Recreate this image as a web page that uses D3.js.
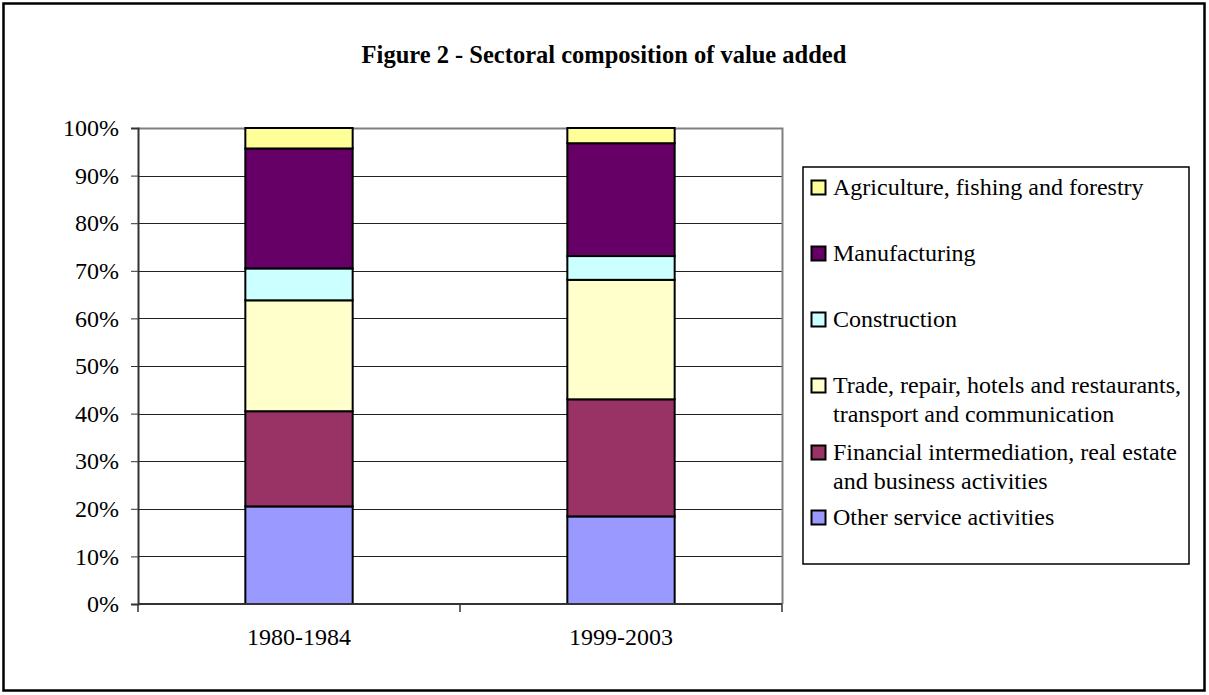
<!DOCTYPE html>
<html>
<head>
<meta charset="utf-8">
<script src="https://cdn.jsdelivr.net/npm/d3@7"></script>
<style>
  html, body { margin: 0; padding: 0; background: #fff; }
  svg { display: block; }
  text, tspan { font-family: "Liberation Serif", "Times New Roman", serif; fill: #000; }
</style>
</head>
<body>
<svg id="chart" width="1209" height="695"></svg>
<script>
// Periods on the x axis
const periods = ["1980-1984", "1999-2003"];

// Sector shares of value added (%), stacked bottom to top
const otherServices = [20.5, 18.4];
const financial     = [20.0, 24.6];
const trade         = [23.3, 25.1];
const construction  = [6.7, 5.0];
const manufacturing = [25.2, 23.7];
const agriculture   = [4.3, 3.2];

// Legend labels (top to bottom) and y-axis tick labels
const sectorNames = [
  "Agriculture, fishing and forestry",
  "Manufacturing",
  "Construction",
  "Trade, repair, hotels and restaurants, transport and communication",
  "Financial intermediation, real estate and business activities",
  "Other service activities"
];
const legendLines = [
  ["Agriculture, fishing and forestry"],
  ["Manufacturing"],
  ["Construction"],
  ["Trade, repair, hotels and restaurants,", "transport and communication"],
  ["Financial intermediation, real estate", "and business activities"],
  ["Other service activities"]
];
const yTicks = [0, 10, 20, 30, 40, 50, 60, 70, 80, 90, 100];

const sectorColors = ["#FFFF99", "#660066", "#CCFFFF", "#FFFFCC", "#993366", "#9999FF"];

// Series in stacking order (bottom first)
const stackOrder = [
  { key: sectorNames[5], values: otherServices, color: sectorColors[5] },
  { key: sectorNames[4], values: financial,     color: sectorColors[4] },
  { key: sectorNames[3], values: trade,         color: sectorColors[3] },
  { key: sectorNames[2], values: construction,  color: sectorColors[2] },
  { key: sectorNames[1], values: manufacturing, color: sectorColors[1] },
  { key: sectorNames[0], values: agriculture,   color: sectorColors[0] }
];

const table = periods.map((p, i) => {
  const row = { period: p };
  stackOrder.forEach(s => { row[s.key] = s.values[i]; });
  return row;
});

const FONT = "'Liberation Serif', 'Times New Roman', serif";
const svg = d3.select("#chart");

// Outer frame
svg.append("rect")
  .attr("x", 3.5).attr("y", 3.5)
  .attr("width", 1201).attr("height", 687)
  .attr("fill", "#fff").attr("stroke", "#000").attr("stroke-width", 2.5);

// Title
svg.append("text")
  .attr("x", 604).attr("y", 63)
  .attr("text-anchor", "middle")
  .style("font-family", FONT)
  .style("font-weight", "bold")
  .style("font-size", "24.5px")
  .text("Figure 2 - Sectoral composition of value added");

const plot = { left: 138, right: 782, top: 128, bottom: 604 };

const x = d3.scaleBand()
  .domain(periods)
  .range([plot.left, plot.right])
  .paddingInner(0)
  .paddingOuter(0);

const y = d3.scaleLinear()
  .domain([0, 100])
  .range([plot.bottom, plot.top]);

// Gridlines
svg.append("g")
  .selectAll("line")
  .data(yTicks.filter(t => t > 0 && t < 100))
  .join("line")
  .attr("x1", plot.left).attr("x2", plot.right)
  .attr("y1", d => Math.round(y(d)) + 0.5)
  .attr("y2", d => Math.round(y(d)) + 0.5)
  .attr("stroke", "#222").attr("stroke-width", 1);

// Plot-area border (top and right)
svg.append("path")
  .attr("d", `M${plot.left},${plot.top + 0.5}H${plot.right + 0.5}V${plot.bottom}`)
  .attr("fill", "none").attr("stroke", "#808080").attr("stroke-width", 2);

// Stacked bars
const stack = d3.stack().keys(stackOrder.map(s => s.key));
const layers = stack(table);
const barW = x.bandwidth() / 3;

svg.append("g")
  .selectAll("g")
  .data(layers)
  .join("g")
  .attr("fill", (d, i) => stackOrder[i].color)
  .selectAll("rect")
  .data(d => d)
  .join("rect")
  .attr("x", d => x(d.data.period) + (x.bandwidth() - barW) / 2)
  .attr("width", barW)
  .attr("y", d => y(d[1]))
  .attr("height", d => y(d[0]) - y(d[1]))
  .attr("stroke", "#000")
  .attr("stroke-width", 2);

// Y axis
const yAxis = d3.axisLeft(y)
  .tickValues(yTicks)
  .tickFormat(d => d + "%")
  .tickSize(7)
  .tickPadding(12);

const gy = svg.append("g")
  .attr("transform", `translate(${plot.left},0)`)
  .call(yAxis);
gy.select(".domain").attr("stroke", "#333").attr("stroke-width", 2);
gy.selectAll(".tick line").attr("stroke", "#333");
gy.selectAll(".tick text")
  .style("font-size", "24px")
  .style("font-family", FONT)
  .attr("fill", "#000");

// X axis: labels centred under bars, ticks at category boundaries
const xAxis = d3.axisBottom(x).tickSize(0).tickPadding(24);
const gx = svg.append("g")
  .attr("transform", `translate(0,${plot.bottom})`)
  .call(xAxis);
gx.select(".domain").remove();
gx.selectAll(".tick text")
  .style("font-size", "24px")
  .style("font-family", FONT)
  .attr("fill", "#000");

gx.append("line")
  .attr("x1", plot.left).attr("x2", plot.right)
  .attr("y1", 0).attr("y2", 0)
  .attr("stroke", "#333").attr("stroke-width", 2);
gx.selectAll(".boundary")
  .data([plot.left, x(periods[1]), plot.right])
  .join("line")
  .attr("class", "boundary")
  .attr("x1", d => d).attr("x2", d => d)
  .attr("y1", 0).attr("y2", 8)
  .attr("stroke", "#333").attr("stroke-width", 1.5);

// Legend
const legend = { x: 803, y: 167, w: 386, h: 397 };
svg.append("rect")
  .attr("x", legend.x).attr("y", legend.y)
  .attr("width", legend.w).attr("height", legend.h)
  .attr("fill", "#fff").attr("stroke", "#000").attr("stroke-width", 1.5);

const legendRowY = [187, 253, 319, 385, 452, 517];
const lineGap = 29;
const items = svg.append("g").selectAll("g")
  .data(legendLines)
  .join("g")
  .attr("transform", (d, i) => `translate(${legend.x},${legendRowY[i]})`);

items.append("rect")
  .attr("x", 8.5).attr("y", -6.5)
  .attr("width", 14).attr("height", 14)
  .attr("fill", (d, i) => sectorColors[i])
  .attr("stroke", "#000").attr("stroke-width", 2);

items.append("text")
  .attr("x", 30)
  .attr("y", 8)
  .style("font-family", FONT)
  .style("font-size", "24px")
  .selectAll("tspan")
  .data(d => d)
  .join("tspan")
  .attr("x", 30)
  .attr("dy", (d, j) => j === 0 ? 0 : lineGap)
  .text(d => d);
</script>
</body>
</html>
